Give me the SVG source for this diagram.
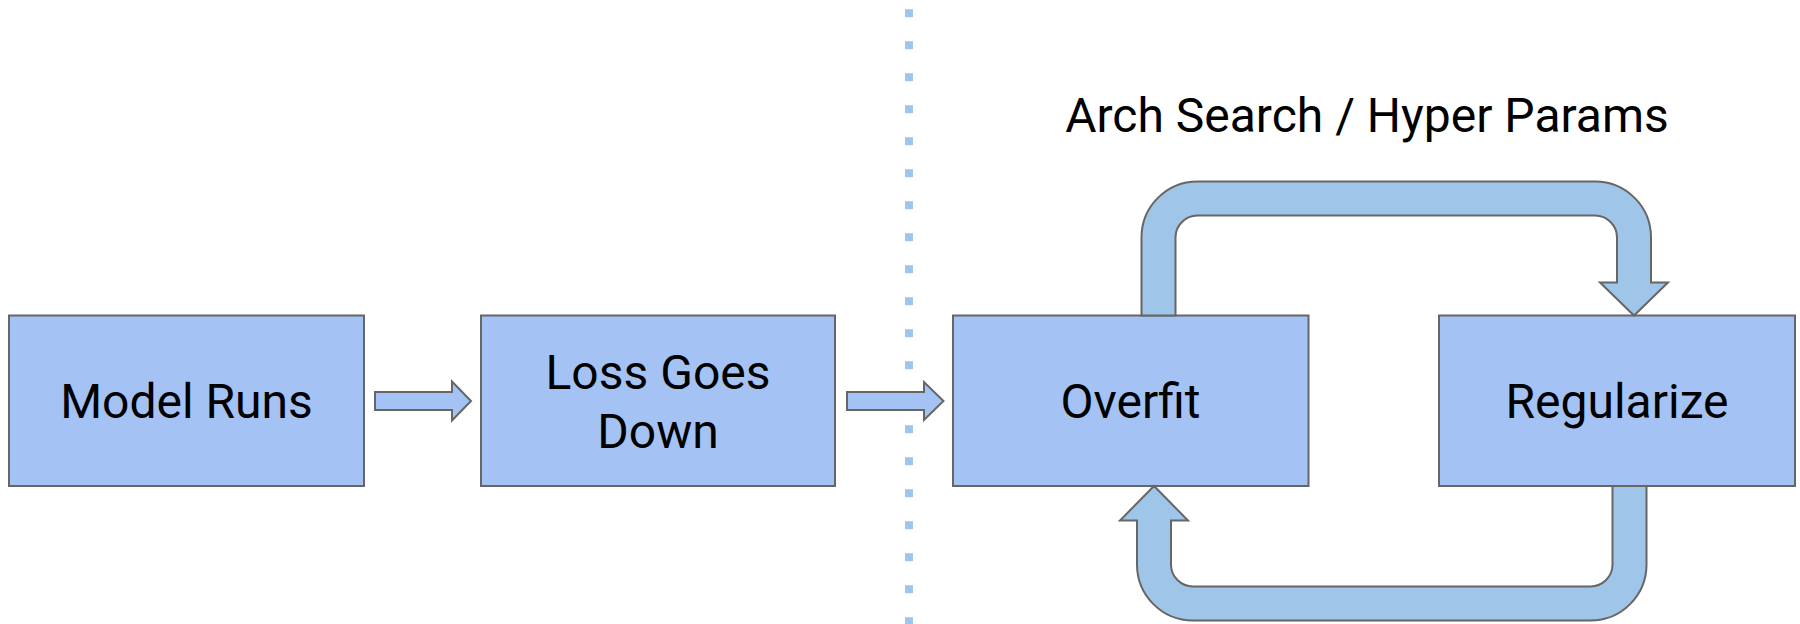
<svg xmlns="http://www.w3.org/2000/svg" width="1800" height="624" viewBox="0 0 1800 624">
<style>
.box{fill:#a4c2f4;stroke:#666666;stroke-width:2}
.arr{fill:#a4c2f4;stroke:#666666;stroke-width:2;stroke-linejoin:miter}
.loop{fill:#9fc5e8;stroke:#666666;stroke-width:2}
.lbl{font-family:Roboto,"Liberation Sans",sans-serif;font-size:48px;fill:#000000;text-anchor:middle}
</style>
<rect width="1800" height="624" fill="#ffffff"/>
<line x1="909" y1="9.3" x2="909" y2="624" stroke="#9fc5e8" stroke-width="8" stroke-dasharray="8 24"/>
<text class="lbl" x="1367" y="131.5">Arch Search / Hyper Params</text>
<g id="model-runs">
<rect class="box" x="9" y="315.5" width="355" height="170.5"/>
<text class="lbl" x="186.5" y="418">Model Runs</text>
</g>
<g id="loss-goes-down">
<rect class="box" x="481" y="315.5" width="354" height="170.5"/>
<text class="lbl" x="658" y="388.5">Loss Goes</text>
<text class="lbl" x="658" y="447.5">Down</text>
</g>
<g id="overfit">
<rect class="box" x="953" y="315.5" width="355.5" height="170.5"/>
<text class="lbl" x="1130.5" y="418">Overfit</text>
</g>
<g id="regularize">
<rect class="box" x="1439" y="315.5" width="356" height="170.5"/>
<text class="lbl" x="1617" y="418">Regularize</text>
</g>
<g id="connectors">
<polygon class="arr" points="375,392 452,392 452,381.5 471,401 452,420.5 452,410 375,410"/>
<polygon class="arr" points="847,392 924,392 924,382 943.5,401 924,420 924,410 847,410"/>
<path class="loop" d="M1141.5 315.5 L1141.5 237.5 A56 56 0 0 1 1197.5 181.5 L1595 181.5 A56 56 0 0 1 1651 237.5 L1651 282.5 L1668 282.5 L1634 315.5 L1600 282.5 L1617 282.5 L1617 237.5 A22 22 0 0 0 1595 215.5 L1197.5 215.5 A22 22 0 0 0 1175.5 237.5 L1175.5 315.5 Z"/>
<path class="loop" d="M1646.5 486 L1646.5 564.5 A56 56 0 0 1 1590.5 620.5 L1193 620.5 A56 56 0 0 1 1137 564.5 L1137 520.5 L1120 520.5 L1154 486 L1188 520.5 L1171 520.5 L1171 564.5 A22 22 0 0 0 1193 586.5 L1590.5 586.5 A22 22 0 0 0 1612.5 564.5 L1612.5 486 Z"/>
</g>
</svg>
